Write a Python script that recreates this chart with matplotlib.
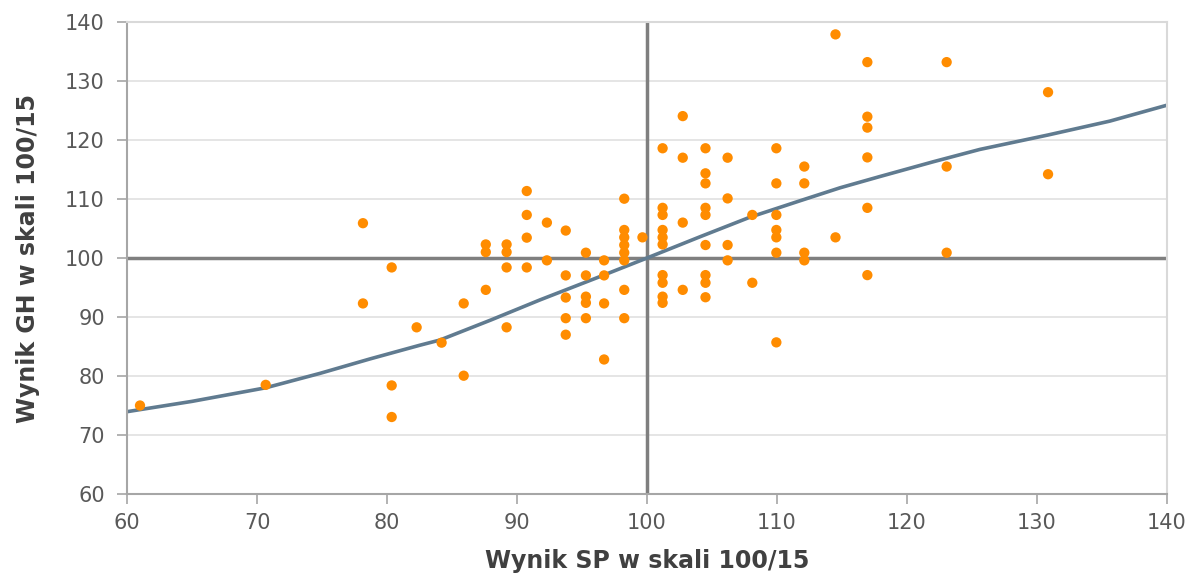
import numpy as np
import matplotlib.pyplot as plt

# wyniki uczniów (SP na osi x, GH na osi y)
sp = [61.0, 70.67, 78.15, 78.15, 80.36, 80.36, 80.36, 82.28, 84.2, 85.9, 85.9,
      87.6, 87.6, 87.6, 89.2, 89.2, 89.2, 89.2,
      90.75, 90.75, 90.75, 90.75, 92.3, 92.3,
      93.75, 93.75, 93.75, 93.75, 93.75,
      95.3, 95.3, 95.3, 95.3, 95.3,
      96.7, 96.7, 96.7, 96.7,
      98.25, 98.25, 98.25, 98.25, 98.25, 98.25, 98.25, 98.25,
      99.65,
      101.2, 101.2, 101.2, 101.2, 101.2, 101.2, 101.2, 101.2, 101.2, 101.2,
      102.75, 102.75, 102.75, 102.75,
      104.5, 104.5, 104.5, 104.5, 104.5, 104.5, 104.5, 104.5, 104.5,
      106.2, 106.2, 106.2, 106.2,
      108.1, 108.1,
      109.95, 109.95, 109.95, 109.95, 109.95, 109.95, 109.95,
      112.1, 112.1, 112.1, 112.1,
      114.5, 114.5,
      116.95, 116.95, 116.95, 116.95, 116.95, 116.95,
      123.05, 123.05, 123.05,
      130.85, 130.85]
gh = [75.0, 78.5, 105.9, 92.3, 98.4, 78.4, 73.05, 88.25, 85.65, 92.3, 80.05,
      102.3, 101.0, 94.6, 102.3, 101.0, 98.4, 88.25,
      111.35, 107.3, 103.45, 98.4, 106.0, 99.6,
      104.65, 97.05, 93.3, 89.8, 87.0,
      100.9, 97.05, 93.45, 92.4, 89.8,
      99.6, 97.05, 92.3, 82.8,
      110.05, 104.75, 103.5, 102.2, 100.9, 99.6, 94.6, 89.8,
      103.5,
      118.6, 108.5, 107.3, 104.75, 103.5, 102.3, 97.1, 95.8, 93.45, 92.4,
      124.05, 117.0, 106.0, 94.6,
      118.6, 114.35, 112.65, 108.5, 107.3, 102.2, 97.1, 95.8, 93.35,
      117.0, 110.1, 102.2, 99.6,
      107.3, 95.8,
      118.6, 112.65, 107.3, 104.75, 103.5, 100.9, 85.7,
      115.5, 112.65, 100.9, 99.6,
      137.9, 103.5,
      133.2, 123.95, 122.1, 117.05, 108.5, 97.1,
      133.2, 115.5, 100.9,
      128.1, 114.2]

# linia trendu
trend_x = [60, 65, 70.67, 74.85, 78.7, 82.5, 84.08, 88, 91.77, 96.38, 100, 104.08,
           107.9, 111.77, 114.85, 117.9, 122, 125.6, 130.85, 135.6, 140]
trend_y = [73.95, 75.7, 78.0, 80.45, 82.9, 85.2, 86.1, 89.5, 92.9, 96.85, 100.0, 103.6,
           106.9, 109.7, 111.9, 113.8, 116.3, 118.4, 120.85, 123.2, 125.9]

tick_color = '#595959'
label_color = '#404040'

W, H = 1198, 576
fig = plt.figure(figsize=(W / 100, H / 100), dpi=100)
ax = fig.add_axes([127/W, 1 - 494/H, 1040/W, 472/H])

ax.set_xlim(60, 140)
ax.set_ylim(60, 140)
ax.set_xticks(np.arange(60, 141, 10))
ax.set_yticks(np.arange(60, 141, 10))

# siatka pozioma
for yv in np.arange(70, 140, 10):
    ax.axhline(yv, color='#E3E3E3', lw=1.3, zorder=0)

# osie przez 100
ax.axhline(100, color='#7F7F7F', lw=2.5, zorder=1)
ax.axvline(100, color='#7F7F7F', lw=2.5, zorder=1)

ax.plot(trend_x, trend_y, color='#607B90', lw=2.6, zorder=2)
ax.scatter(sp, gh, s=55, color='#FF8C00', edgecolors='none', zorder=3)

for side in ['left', 'bottom']:
    ax.spines[side].set_color('#A6A6A6')
    ax.spines[side].set_linewidth(1.5)
for side in ['top', 'right']:
    ax.spines[side].set_color('#D9D9D9')
    ax.spines[side].set_linewidth(1.5)

ax.tick_params(axis='both', direction='out', length=7, width=1.2, color='#A6A6A6',
               labelcolor=tick_color, labelsize=15)
ax.tick_params(axis='y', pad=9)
ax.tick_params(axis='x', pad=7)

# podpisy osi
fig.text(647/W, 1 - 561/H, 'Wynik SP w skali 100/15', fontsize=17, fontweight='bold',
         color=label_color, ha='center', va='center')
fig.text(28/W, 1 - 258/H, 'Wynik GH w skali 100/15', fontsize=17, fontweight='bold',
         color=label_color, ha='center', va='center', rotation=90)

fig.savefig('out.png', dpi=100)
